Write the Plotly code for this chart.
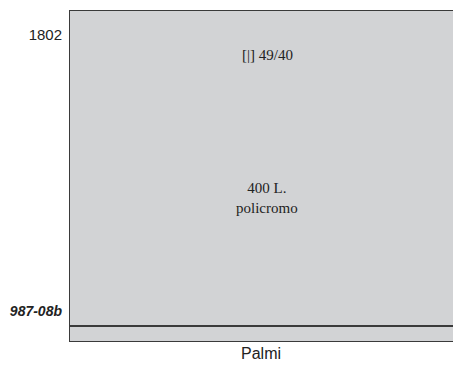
import plotly.graph_objects as go

categories = ["Palmi"]
segment_names = ["987-08b", "1802"]
segment_values = [4.8, 95.2]
tick_positions = [9.3, 92.5]
tick_labels = ["<b><i><span style='font-size:14px'>987-08b</span></i></b>", "1802"]
note_positions = [86.4, 43.3]
note_texts = ["[|] 49/40", "400 L.<br>policromo"]

fig = go.Figure()
for name, val in zip(segment_names, segment_values):
    fig.add_trace(go.Bar(
        x=categories, y=[val], name=name, width=1.3, offset=-0.5,
        marker=dict(color="#d2d3d5", line=dict(color="#3a3a3a", width=1.3)),
        hoverinfo="skip",
    ))

for yv, txt in zip(note_positions, note_texts):
    fig.add_annotation(x=categories[0], y=yv, text=txt, showarrow=False,
                       font=dict(family="Liberation Serif", size=15, color="#222"),
                       xshift=6)

fig.update_layout(
    barmode="stack", showlegend=False,
    width=453, height=369,
    margin=dict(l=69, r=0, t=10, b=27),
    paper_bgcolor="white", plot_bgcolor="white",
    font=dict(family="Liberation Sans", size=15, color="#222"),
    xaxis=dict(range=[-0.5, 0.5], showgrid=False, zeroline=False, ticks="",
               showline=False, tickfont=dict(size=16)),
    yaxis=dict(range=[0, 100], tickvals=tick_positions, ticktext=tick_labels,
               showgrid=False, zeroline=False, ticks="", showline=False,
               ticklabelstandoff=6, tickfont=dict(size=15)),
)
fig.write_html(
    "out.html",
    config={"displayModeBar": False, "staticPlot": True},
    post_script="document.body.style.margin='0';document.body.style.overflow='hidden';document.documentElement.style.overflow='hidden';",
)
